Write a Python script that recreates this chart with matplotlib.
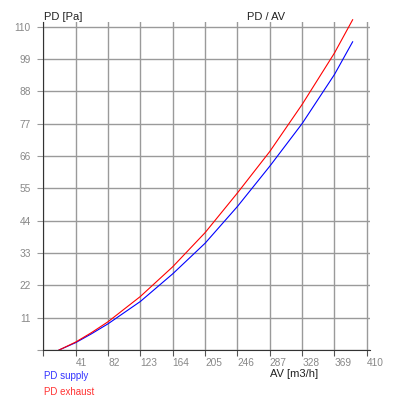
import matplotlib
matplotlib.use("Agg")
import matplotlib.pyplot as plt

plt.rcParams['font.family'] = ['Liberation Sans', 'DejaVu Sans']

# values
av = [20, 41, 61, 82, 123, 164, 205, 246, 287, 328, 369, 392]
pd_supply = [0, 2.5, 5.5, 8.9, 16.5, 25.9, 36.3, 48.8, 62.5, 77.0, 93.7, 104.8]
pd_exhaust = [0, 2.7, 5.9, 9.6, 18.2, 28.3, 39.9, 53.4, 67.5, 83.5, 101.0, 112.3]

x_ticks = [0, 41, 82, 123, 164, 205, 246, 287, 328, 369, 410]
y_ticks = [0, 11, 22, 33, 44, 55, 66, 77, 88, 99, 110]

fig = plt.figure(figsize=(4, 4), dpi=100)
ax = fig.add_axes([43.3 / 400, 50 / 400, 326.7 / 400, 327.9 / 400])

ax.plot(av, pd_supply, color='#0000ff', lw=0.8, clip_on=False)
ax.plot(av, pd_exhaust, color='#ff0000', lw=0.8, clip_on=False)

ax.set_xlim(0, 414)
ax.set_ylim(0, 111.5)
ax.set_xticks(x_ticks)
ax.set_yticks(y_ticks)
ax.set_xticklabels([''] + [str(v) for v in x_ticks[1:]])
ax.set_yticklabels([''] + [str(v) for v in y_ticks[1:]])
ax.grid(True, color='#9a9a9a', lw=1.0)
ax.set_axisbelow(True)

for s in ['top', 'right']:
    ax.spines[s].set_visible(False)
ax.spines['left'].set_color('#333333')
ax.spines['bottom'].set_color('#333333')

ax.tick_params(axis='y', length=4, color='#9a9a9a', labelcolor='#888888',
               labelsize=7.3, pad=5)
ax.tick_params(axis='x', length=4, color='#555555', labelcolor='#888888',
               labelsize=7.3, pad=1.5)
for lab in ax.get_xticklabels():
    lab.set_horizontalalignment('left')

fig.text(44 / 400, 1 - 17 / 400, 'PD [Pa]', fontsize=8, color='#222222', va='center', ha='left')
fig.text(266 / 400, 1 - 17 / 400, 'PD / AV', fontsize=8, color='#222222', va='center', ha='center')
fig.text(294 / 400, 1 - 374 / 400, 'AV [m3/h]', fontsize=8, color='#222222', va='center', ha='center')
fig.text(44 / 400, 1 - 376 / 400, 'PD supply', fontsize=7, color='#3333ff', va='center', ha='left')
fig.text(44 / 400, 1 - 392 / 400, 'PD exhaust', fontsize=7, color='#ff3333', va='center', ha='left')

fig.savefig('out.png', dpi=100)
